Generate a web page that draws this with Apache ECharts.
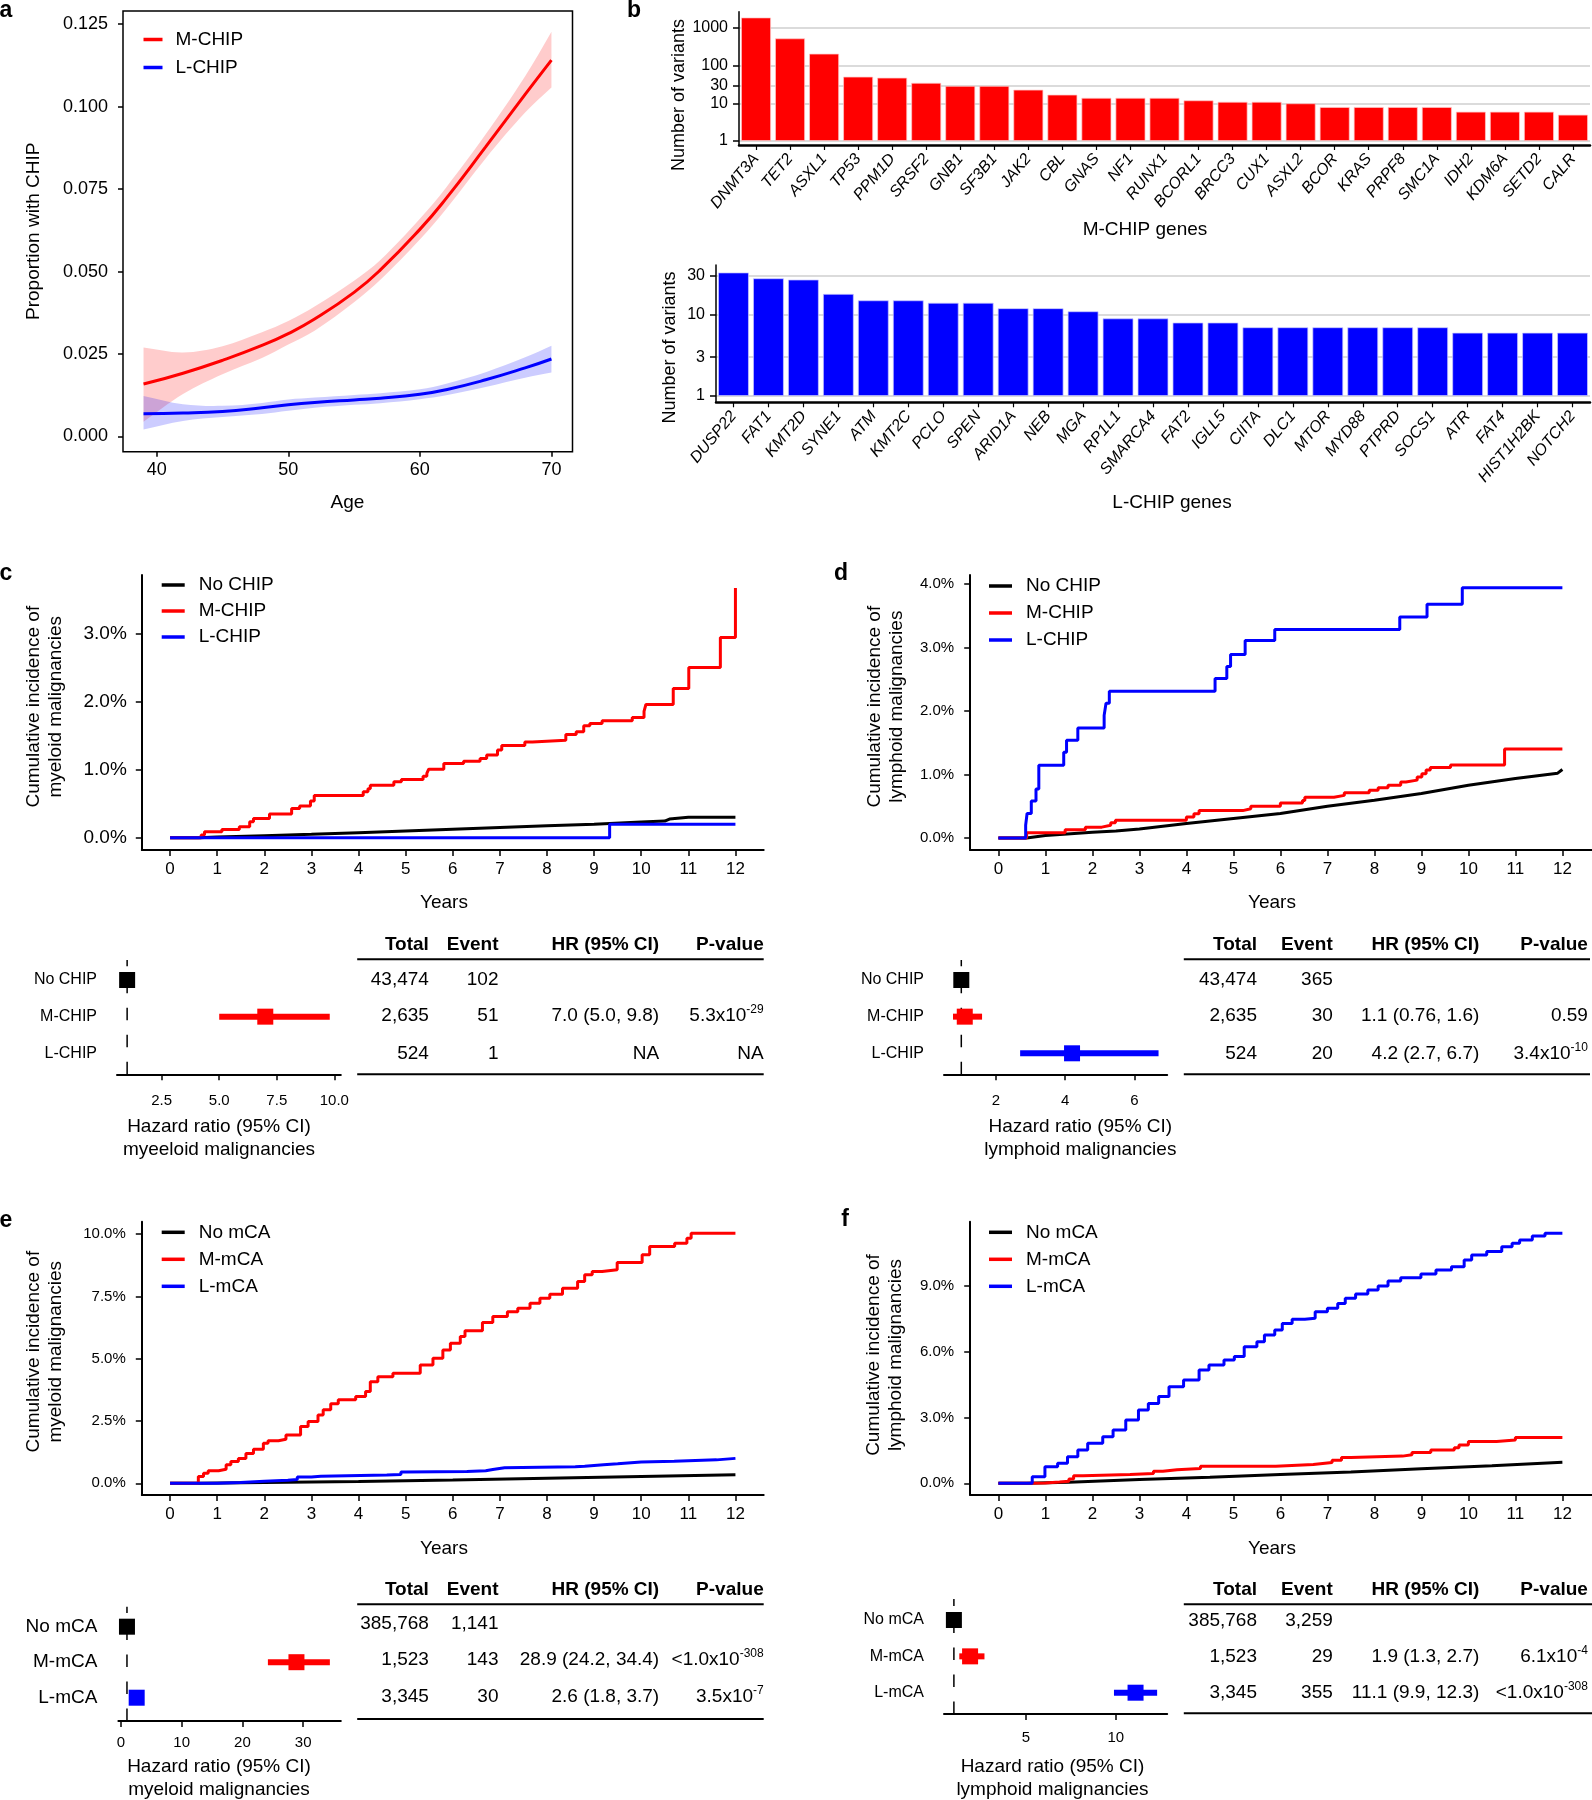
<!DOCTYPE html>
<html><head><meta charset="utf-8">
<script src="https://cdn.jsdelivr.net/npm/echarts@6/dist/echarts.min.js"></script>
<style>html,body{margin:0;padding:0;background:#fff}#c{width:1592px;height:1800px}</style>
</head><body><div id="c"></div><script>
const FONT = '"Liberation Sans", Arial, Helvetica, sans-serif';
const RED = '#FF0000', BLUE = '#0000FF', BLACK = '#000000';

// ---------- Panel a ----------
const ageA   = [39, 42, 45, 48, 50, 52, 55, 57, 60, 62, 65, 68, 70];
const mProp  = [0.0159, 0.0192, 0.0231, 0.0276, 0.0312, 0.0356, 0.0437, 0.0505, 0.0628, 0.0722, 0.0878, 0.1037, 0.1141];
const mLo    = [0.0045, 0.0129, 0.0189, 0.0238, 0.0279, 0.0321, 0.0407, 0.0475, 0.0597, 0.0690, 0.0843, 0.0982, 0.1058];
const mHi    = [0.0270, 0.0255, 0.0274, 0.0316, 0.0350, 0.0394, 0.0472, 0.0535, 0.0660, 0.0755, 0.0916, 0.1092, 0.1227];
const lProp  = [0.0069, 0.0071, 0.0076, 0.0087, 0.0096, 0.0103, 0.0111, 0.0116, 0.0128, 0.0142, 0.0172, 0.0208, 0.0235];
const lLo    = [0.0021, 0.0047, 0.0059, 0.0068, 0.0078, 0.0087, 0.0096, 0.0101, 0.0113, 0.0125, 0.0150, 0.0178, 0.0194];
const lHi    = [0.0123, 0.0098, 0.0093, 0.0102, 0.0112, 0.0118, 0.0126, 0.0131, 0.0143, 0.0160, 0.0195, 0.0240, 0.0275];
const aXTicks = [40, 50, 60, 70];
const aYTicks = [0, 0.025, 0.05, 0.075, 0.1, 0.125];

// ---------- Panel b ----------
const mGenes = ['DNMT3A','TET2','ASXL1','TP53','PPM1D','SRSF2','GNB1','SF3B1','JAK2','CBL','GNAS','NF1','RUNX1','BCORL1','BRCC3','CUX1','ASXL2','BCOR','KRAS','PRPF8','SMC1A','IDH2','KDM6A','SETD2','CALR'];
const mCounts = [1900, 530, 208, 51, 48, 35, 29, 29, 23, 17, 14, 14, 14, 12, 11, 11, 10, 8, 8, 8, 8, 6, 6, 6, 5];
const lGenes = ['DUSP22','FAT1','KMT2D','SYNE1','ATM','KMT2C','PCLO','SPEN','ARID1A','NEB','MGA','RP1L1','SMARCA4','FAT2','IGLL5','CIITA','DLC1','MTOR','MYD88','PTPRD','SOCS1','ATR','FAT4','HIST1H2BK','NOTCH2'];
const lCounts = [33, 28, 27, 18, 15, 15, 14, 14, 12, 12, 11, 9, 9, 8, 8, 7, 7, 7, 7, 7, 7, 6, 6, 6, 6];
const mTicks = [1, 10, 30, 100, 1000];
const lTicks = [1, 3, 10, 30];

// ---------- KM curves (years, cumulative incidence %) ----------
const yearTicks = [0,1,2,3,4,5,6,7,8,9,10,11,12];
// c
const cNoT = [0, 0.6, 1, 2, 3, 4, 5, 6, 7, 8, 9, 10, 10.5, 10.6, 11, 12];
const cNoV = [0, 0, 0.01, 0.03, 0.05, 0.075, 0.10, 0.125, 0.15, 0.175, 0.20, 0.23, 0.245, 0.275, 0.30, 0.30];
const cMT = [0, 0.60, 0.66, 0.73, 1.10, 1.47, 1.69, 1.77, 2.11, 2.58, 2.75, 2.98, 3.06, 4.10, 4.20, 4.25, 4.75, 4.91, 5.37, 5.45, 5.49, 5.81, 6.23, 6.58, 6.72, 6.95, 7.04, 7.53, 7.69, 8.40, 8.62, 8.78, 8.91, 9.17, 9.81, 10.06, 10.10, 10.68, 11.01, 11.68, 12.0];
const cMV = [0, 0, 0.04, 0.088, 0.122, 0.161, 0.235, 0.284, 0.348, 0.431, 0.465, 0.54, 0.622, 0.675, 0.72, 0.773, 0.822, 0.857, 0.905, 0.945, 1.008, 1.091, 1.125, 1.165, 1.214, 1.288, 1.356, 1.405, 1.434, 1.517, 1.556, 1.644, 1.679, 1.718, 1.767, 1.855, 1.958, 2.193, 2.50, 2.94, 3.67];
const cLT = [0, 9.33, 12];
const cLV = [0, 0.20, 0.20];
const cYTicks = [0, 1, 2, 3];
// d
const dNoT = [0, 0.6, 1, 2, 2.5, 3, 4, 5, 6, 7, 8, 9, 10, 11, 11.9, 12];
const dNoV = [0, 0, 0.04, 0.09, 0.11, 0.142, 0.226, 0.305, 0.384, 0.50, 0.594, 0.70, 0.83, 0.935, 1.02, 1.077];
const dMT = [0, 0.6, 1.42, 1.85, 2.2, 2.39, 2.49, 4.0, 4.16, 4.27, 5.2, 5.37, 6.0, 6.47, 6.52, 7.14, 7.36, 7.89, 8.08, 8.29, 8.56, 8.67, 8.91, 9.01, 9.1, 9.19, 9.62, 10.77, 12];
const dMV = [0, 0.08, 0.13, 0.17, 0.2, 0.24, 0.28, 0.33, 0.38, 0.43, 0.46, 0.50, 0.55, 0.59, 0.64, 0.67, 0.71, 0.75, 0.79, 0.83, 0.88, 0.91, 0.96, 1.01, 1.07, 1.11, 1.15, 1.40, 1.40];
const dLT = [0, 0.58, 0.61, 0.70, 0.80, 0.86, 1.39, 1.45, 1.69, 2.25, 2.29, 2.36, 4.61, 4.86, 4.94, 5.25, 5.88, 8.54, 9.12, 9.87, 12];
const dLV = [0, 0.2, 0.384, 0.58, 0.77, 1.146, 1.35, 1.54, 1.73, 1.93, 2.12, 2.31, 2.51, 2.70, 2.89, 3.11, 3.28, 3.48, 3.68, 3.94, 3.94];
const dYTicks = [0, 1, 2, 3, 4];
// e
const eNoT = [0, 0.6, 2, 4, 6, 8, 10, 12];
const eNoV = [0, 0, 0.03, 0.07, 0.13, 0.20, 0.27, 0.34];
const eMT = [0, 0.55, 0.6, 0.71, 0.81, 1.03, 1.19, 1.29, 1.45, 1.61, 1.77, 1.98, 2.08, 2.30, 2.46, 2.77, 2.93, 3.14, 3.25, 3.41, 3.57, 3.94, 4.15, 4.25, 4.41, 4.73, 5.31, 5.58, 5.79, 5.95, 6.16, 6.26, 6.63, 6.85, 7.16, 7.38, 7.64, 7.85, 8.06, 8.33, 8.65, 8.80, 8.96, 9.17, 9.49, 10.02, 10.18, 10.71, 10.97, 11.06, 12];
const eMV = [0, 0, 0.27, 0.4, 0.5, 0.56, 0.74, 0.87, 1.0, 1.2, 1.37, 1.61, 1.71, 1.77, 1.94, 2.28, 2.48, 2.74, 2.95, 3.19, 3.35, 3.48, 3.68, 4.08, 4.28, 4.42, 4.75, 5.02, 5.35, 5.62, 5.89, 6.12, 6.45, 6.69, 6.89, 7.03, 7.23, 7.43, 7.59, 7.83, 8.10, 8.37, 8.50, 8.57, 8.86, 9.17, 9.50, 9.64, 9.84, 10.04, 10.04];
const eLT = [0, 0.6, 1, 1.5, 2, 2.5, 2.7, 3, 3.2, 4.6, 4.9, 5.0, 6.3, 6.7, 6.85, 7.1, 8.6, 8.8, 9.2, 9.5, 10, 10.7, 11.6, 12];
const eLV = [0, 0, 0.03, 0.08, 0.12, 0.15, 0.25, 0.28, 0.33, 0.35, 0.45, 0.47, 0.5, 0.55, 0.62, 0.66, 0.68, 0.74, 0.78, 0.85, 0.88, 0.94, 1.0, 1.0];
const eYTicks = [0, 2.5, 5, 7.5, 10];
// f
const fNoT = [0, 0.6, 1.5, 3, 4.5, 6, 7.5, 9, 10.5, 12];
const fNoV = [0, 0, 0.05, 0.17, 0.28, 0.40, 0.52, 0.66, 0.80, 0.96];
const fMT = [0, 0.6, 1.0, 1.3, 1.5, 1.6, 1.8, 2.8, 3.3, 3.5, 3.8, 4.3, 5.9, 6.7, 7.1, 7.3, 7.5, 8.6, 8.8, 9.2, 9.7, 9.8, 10.0, 10.6, 11.0, 12];
const fMV = [0, 0.02, 0.06, 0.1, 0.2, 0.35, 0.4, 0.45, 0.55, 0.62, 0.68, 0.78, 0.86, 0.95, 1.05, 1.18, 1.24, 1.3, 1.4, 1.52, 1.62, 1.75, 1.9, 1.97, 2.09, 2.09];
const fLT = [0, 0.5, 0.72, 0.99, 1.26, 1.47, 1.69, 1.90, 2.22, 2.44, 2.71, 2.98, 3.19, 3.41, 3.63, 3.94, 4.27, 4.48, 4.80, 5.02, 5.23, 5.50, 5.66, 5.88, 6.04, 6.25, 6.52, 6.74, 7.0, 7.22, 7.38, 7.60, 7.86, 8.08, 8.29, 8.56, 8.99, 9.31, 9.64, 9.91, 10.07, 10.39, 10.71, 10.93, 11.09, 11.36, 11.63, 12];
const fLV = [0, 0, 0.3, 0.76, 0.91, 1.21, 1.52, 1.82, 2.12, 2.43, 2.88, 3.34, 3.64, 3.95, 4.40, 4.70, 5.16, 5.39, 5.61, 5.77, 6.22, 6.45, 6.75, 6.98, 7.28, 7.47, 7.51, 7.81, 7.97, 8.19, 8.42, 8.62, 8.80, 8.98, 9.21, 9.36, 9.53, 9.71, 9.86, 10.17, 10.39, 10.55, 10.77, 10.93, 11.08, 11.26, 11.38, 11.38];
const fYTicks = [0, 3, 6, 9];

// ---------- Forest plots (HR, lower, upper) ----------
const chipRows = ['No CHIP', 'M-CHIP', 'L-CHIP'];
const mcaRows = ['No mCA', 'M-mCA', 'L-mCA'];
const fcHR = [1, 7.0, null],  fcLo = [null, 5.0, null], fcHi = [null, 9.8, null];
const fdHR = [1, 1.1, 4.2],   fdLo = [null, 0.76, 2.7], fdHi = [null, 1.6, 6.7];
const feHR = [1, 28.9, 2.6],  feLo = [null, 24.2, 1.8], feHi = [null, 34.4, 3.7];
const ffHR = [1, 1.9, 11.1],  ffLo = [null, 1.3, 9.9],  ffHi = [null, 2.7, 12.3];
const fcTicks = [2.5, 5, 7.5, 10];
const fdTicks = [2, 4, 6];
const feTicks = [0, 10, 20, 30];
const ffTicks = [5, 10];

// ---------- Tables ----------
const tabHead = ['Total', 'Event', 'HR (95% CI)', 'P-value'];
const tcTotal = ['43,474', '2,635', '524'], tcEvent = ['102', '51', '1'], tcHR = ['', '7.0 (5.0, 9.8)', 'NA'], tcP = [['', ''], ['5.3x10', '-29'], ['NA', '']];
const tdTotal = ['43,474', '2,635', '524'], tdEvent = ['365', '30', '20'], tdHR = ['', '1.1 (0.76, 1.6)', '4.2 (2.7, 6.7)'], tdP = [['', ''], ['0.59', ''], ['3.4x10', '-10']];
const teTotal = ['385,768', '1,523', '3,345'], teEvent = ['1,141', '143', '30'], teHR = ['', '28.9 (24.2, 34.4)', '2.6 (1.8, 3.7)'], teP = [['', ''], ['<1.0x10', '-308'], ['3.5x10', '-7']];
const tfTotal = ['385,768', '1,523', '3,345'], tfEvent = ['3,259', '29', '355'], tfHR = ['', '1.9 (1.3, 2.7)', '11.1 (9.9, 12.3)'], tfP = [['', ''], ['6.1x10', '-4'], ['<1.0x10', '-308']];

// ================= build =================
const chart = echarts.init(document.getElementById('c'), null, {renderer: 'canvas'});
const txtBase = {color: '#000', fontFamily: FONT};

const grids = [
  {left: 123, top: 11, width: 449.5, height: 440.7, show: true, borderColor: '#000', borderWidth: 1.5, backgroundColor: 'transparent'},
  {left: 739, top: 11.7, width: 851, height: 133.3},
  {left: 716, top: 265, width: 874, height: 137.3},
  {left: 141.8, top: 575, width: 621.9, height: 275},
  {left: 970.2, top: 575, width: 621.8, height: 275},
  {left: 141.8, top: 1221.7, width: 621.9, height: 273.3},
  {left: 970.2, top: 1221.7, width: 621.8, height: 273.3},
  {left: 117, top: 960, width: 223.8, height: 114.3},
  {left: 944, top: 960, width: 223.2, height: 114.3},
  {left: 118.4, top: 1606.7, width: 222.4, height: 114.3},
  {left: 944, top: 1599, width: 223.2, height: 115}
].map(g => Object.assign({outerBoundsMode: 'none', containLabel: false}, g));

function valAxis(gi, min, max, ticks, o) {
  return {
    type: o.log ? 'log' : 'value', logBase: 10, gridIndex: gi, min, max, inverse: !!o.inverse,
    axisLine: {show: o.line !== false, onZero: false, lineStyle: {color: '#000', width: o.lw || 2}},
    axisTick: {show: o.tick !== false, customValues: ticks, length: o.tl || 6, lineStyle: {color: '#000', width: 1.5}},
    axisLabel: Object.assign({customValues: ticks, fontSize: o.fs || 17, margin: o.margin || 10, formatter: o.fmt}, txtBase),
    splitLine: {show: !!o.split, lineStyle: {color: '#cfcfcf', width: 1.5}}
  };
}
function catAxis(gi, cats) {
  return {
    type: 'category', gridIndex: gi, data: cats,
    axisLine: {show: true, onZero: false, lineStyle: {color: '#000', width: 2.5}},
    axisTick: {show: true, alignWithLabel: true, length: 5, lineStyle: {color: '#000', width: 1.2}},
    axisLabel: Object.assign({interval: 0, rotate: 50, fontSize: 16, fontStyle: 'italic', margin: 11}, txtBase),
    splitLine: {show: false}
  };
}
const pct = v => v.toFixed(1) + '%';
const xAxes = [
  valAxis(0, 37.44, 71.6, aXTicks, {line: false, tl: 5, fs: 18, margin: 9}),
  catAxis(1, mGenes),
  catAxis(2, lGenes),
  valAxis(3, -0.6, 12.6, yearTicks, {fs: 17, margin: 11}),
  valAxis(4, -0.6, 12.63, yearTicks, {fs: 17, margin: 11}),
  valAxis(5, -0.6, 12.6, yearTicks, {fs: 17, margin: 11}),
  valAxis(6, -0.6, 12.63, yearTicks, {fs: 17, margin: 11}),
  valAxis(7, 0.56, 10.28, fcTicks, {fs: 15, margin: 19, fmt: v => v.toFixed(1)}),
  valAxis(8, 0.5, 6.95, fdTicks, {fs: 15, margin: 19}),
  valAxis(9, -0.41, 36.2, feTicks, {fs: 15, margin: 14}),
  valAxis(10, 0.45, 12.86, ffTicks, {fs: 15, margin: 16})
];
const rowFmt = names => v => names[Math.round(v) - 1];
const yAxes = [
  valAxis(0, -0.0046, 0.129, aYTicks, {line: false, tl: 5, fs: 18, margin: 15, fmt: v => v.toFixed(3)}),
  valAxis(1, 0.783, 2706, mTicks, {log: true, lw: 1.5, tl: 6, fs: 16, margin: 11, split: true, fmt: v => String(Math.round(v))}),
  valAxis(2, 0.837, 40.8, lTicks, {log: true, lw: 1.5, tl: 6, fs: 16, margin: 11, split: true, fmt: v => String(Math.round(v))}),
  valAxis(3, -0.18, 3.86, cYTicks, {fs: 19, margin: 15, fmt: pct}),
  valAxis(4, -0.19, 4.14, dYTicks, {fs: 15, margin: 16, fmt: pct}),
  valAxis(5, -0.47, 10.5, eYTicks, {fs: 15, margin: 16, fmt: pct}),
  valAxis(6, -0.53, 11.91, fYTicks, {fs: 15, margin: 16, fmt: pct}),
  valAxis(7, 0.454, 3.573, [1, 2, 3], {inverse: true, line: false, tick: false, fs: 16, margin: 20, fmt: rowFmt(chipRows)}),
  valAxis(8, 0.454, 3.573, [1, 2, 3], {inverse: true, line: false, tick: false, fs: 16, margin: 20, fmt: rowFmt(chipRows)}),
  valAxis(9, 0.437, 3.656, [1, 2, 3], {inverse: true, line: false, tick: false, fs: 19, margin: 21, fmt: rowFmt(mcaRows)}),
  valAxis(10, 0.422, 3.586, [1, 2, 3], {inverse: true, line: false, tick: false, fs: 16, margin: 20, fmt: rowFmt(mcaRows)})
];

function leg(left, top, names, fs, gap, iw, pad) {
  return {orient: 'vertical', left, top, data: names, icon: 'rect', itemWidth: iw, itemHeight: 3.5, itemGap: gap,
    selectedMode: false, padding: 0, textStyle: Object.assign({fontSize: fs, padding: [0, 0, 0, pad]}, txtBase)};
}
const legends = [
  leg(143.5, 30, ['M-CHIP', 'L-CHIP'], 19, 9, 19, 8),
  leg(161.7, 575.5, chipRows, 19, 7, 23, 9),
  leg(989, 576.5, chipRows, 19, 8, 23, 9),
  leg(161.7, 1222.8, mcaRows, 19, 8, 23, 9),
  leg(989, 1222.8, mcaRows, 19, 8, 23, 9)
];

const series = [];
// panel a confidence bands (custom polygon through the axes' scales) + lines
function band(lo, hi, color) {
  series.push({type: 'custom', xAxisIndex: 0, yAxisIndex: 0, silent: true, z: 1,
    data: ageA.map((a, i) => [a, lo[i], hi[i]]),
    renderItem: (p, api) => {
      if (p.dataIndex !== 0) return null;
      const n = ageA.length;
      const up = ageA.map((a, i) => api.coord([a, hi[i]]));
      const dn = ageA.map((a, i) => api.coord([a, lo[i]])).reverse();
      // duplicate the four corner points so the smoothed outline keeps square ends
      const pts = [up[0]].concat(up, [up[n - 1]], [dn[0]], dn, [dn[n - 1]]);
      return {type: 'polygon', shape: {points: pts, smooth: 0.35}, style: {fill: color}};
    }});
}
band(mLo, mHi, 'rgba(255,0,0,0.2)');
band(lLo, lHi, 'rgba(0,0,255,0.2)');
series.push({type: 'line', name: 'M-CHIP', xAxisIndex: 0, yAxisIndex: 0, smooth: true, symbol: 'none', color: RED,
  data: ageA.map((a, i) => [a, mProp[i]]), lineStyle: {color: RED, width: 3}, z: 3});
series.push({type: 'line', name: 'L-CHIP', xAxisIndex: 0, yAxisIndex: 0, smooth: true, symbol: 'none', color: BLUE,
  data: ageA.map((a, i) => [a, lProp[i]]), lineStyle: {color: BLUE, width: 3}, z: 3});
// panel b bars
series.push({type: 'bar', xAxisIndex: 1, yAxisIndex: 1, data: mCounts, barCategoryGap: '12%',
  itemStyle: {color: RED, borderColor: 'rgba(255,200,200,0.9)', borderWidth: 0.8}});
series.push({type: 'bar', xAxisIndex: 2, yAxisIndex: 2, data: lCounts, barCategoryGap: '12%',
  itemStyle: {color: BLUE, borderColor: 'rgba(200,200,255,0.9)', borderWidth: 0.8}});
// KM
function km(gi, name, T, V, color, step) {
  series.push({type: 'line', name, xAxisIndex: gi, yAxisIndex: gi, data: T.map((t, i) => [t, V[i]]), step: step ? 'end' : false,
    symbol: 'none', color, lineStyle: {color, width: 3}, z: 3});
}
km(3, 'No CHIP', cNoT, cNoV, BLACK, false); km(3, 'M-CHIP', cMT, cMV, RED, true); km(3, 'L-CHIP', cLT, cLV, BLUE, true);
km(4, 'No CHIP', dNoT, dNoV, BLACK, false); km(4, 'M-CHIP', dMT, dMV, RED, true); km(4, 'L-CHIP', dLT, dLV, BLUE, true);
km(5, 'No mCA', eNoT, eNoV, BLACK, false); km(5, 'M-mCA', eMT, eMV, RED, true); km(5, 'L-mCA', eLT, eLV, BLUE, true);
km(6, 'No mCA', fNoT, fNoV, BLACK, false); km(6, 'M-mCA', fMT, fMV, RED, true); km(6, 'L-mCA', fLT, fLV, BLUE, true);
// forests
const rowColors = [BLACK, RED, BLUE];
function forest(gi, HR, LO, HI) {
  series.push({type: 'custom', xAxisIndex: gi, yAxisIndex: gi, data: [[1, 1]], silent: true, z: 2,
    renderItem: (p, api) => {
      const cs = p.coordSys; const x = api.coord([1, 1])[0];
      return {type: 'line', shape: {x1: x, y1: cs.y + cs.height, x2: x, y2: cs.y}, style: {stroke: '#000', lineWidth: 1.5, lineDash: [12.5, 14.5]}};
    }});
  const d = HR.map((h, i) => [h == null ? '-' : h, LO[i] == null ? '-' : LO[i], HI[i] == null ? '-' : HI[i], i + 1]);
  series.push({type: 'custom', xAxisIndex: gi, yAxisIndex: gi, data: d, silent: true, z: 3, encode: {x: 0, y: 3},
    renderItem: (p, api) => {
      const hr = api.value(0), lo = api.value(1), hi = api.value(2), row = api.value(3);
      const col = rowColors[p.dataIndex]; const ch = [];
      if (!isNaN(lo) && !isNaN(hi)) {
        const a = api.coord([lo, row]), b = api.coord([hi, row]);
        ch.push({type: 'line', shape: {x1: a[0], y1: a[1], x2: b[0], y2: b[1]}, style: {stroke: col, lineWidth: 6}});
      }
      if (!isNaN(hr)) {
        const c = api.coord([hr, row]);
        ch.push({type: 'rect', shape: {x: c[0] - 8, y: c[1] - 8, width: 16, height: 16}, style: {fill: col}});
      }
      return {type: 'group', children: ch};
    }});
}
forest(7, fcHR, fcLo, fcHi);
forest(8, fdHR, fdLo, fdHi);
forest(9, feHR, feLo, feHi);
forest(10, ffHR, ffLo, ffHi);

// ---------- graphic texts ----------
const G = [];
function T(x, y, text, o = {}) {
  const al = o.align || 'center', va = o.va || 'middle';
  G.push({type: 'text', x, y, rotation: o.rot || 0, silent: true, z: 10,
    style: {text, font: (o.bold ? 'bold ' : '') + (o.fs || 19) + 'px ' + FONT, fill: '#000',
      textAlign: al, align: al, textVerticalAlign: va, verticalAlign: va, lineHeight: o.lh, rich: o.rich}});
}
function L(x1, y1, x2, y2, w) {
  G.push({type: 'line', silent: true, z: 10, shape: {x1, y1, x2, y2}, style: {stroke: '#000', lineWidth: w || 2}});
}
// panel letters
[['a', 6, 22], ['b', 634, 22], ['c', 6, 585], ['d', 841, 585], ['e', 6, 1232], ['f', 845, 1231]].forEach(([t, x, y]) =>
  T(x, y, t, {bold: true, fs: 23, va: 'bottom'}));
// axis titles
const V90 = Math.PI / 2;
T(33.7, 231.3, 'Proportion with CHIP', {rot: V90, fs: 19});
T(347.5, 503, 'Age', {fs: 19});
T(679, 95, 'Number of variants', {rot: V90, fs: 18});
T(669.6, 347.5, 'Number of variants', {rot: V90, fs: 18});
T(1145, 230, 'M-CHIP genes', {fs: 19});
T(1172, 503, 'L-CHIP genes', {fs: 19});
T(45, 706.7, 'Cumulative incidence of\nmyeloid malignancies', {rot: V90, fs: 19, lh: 22});
T(886, 706.7, 'Cumulative incidence of\nlymphoid malignancies', {rot: V90, fs: 19, lh: 22});
T(45, 1351.7, 'Cumulative incidence of\nmyeloid malignancies', {rot: V90, fs: 19, lh: 22});
T(885, 1355, 'Cumulative incidence of\nlymphoid malignancies', {rot: V90, fs: 19, lh: 22});
T(444, 903, 'Years'); T(1272, 903, 'Years'); T(444, 1548.5, 'Years'); T(1272, 1548.5, 'Years');
T(219, 1138, 'Hazard ratio (95% CI)\nmyeeloid malignancies', {fs: 19, lh: 22.6});
T(1080.3, 1138, 'Hazard ratio (95% CI)\nlymphoid malignancies', {fs: 19, lh: 22.6});
T(219, 1778, 'Hazard ratio (95% CI)\nmyeloid malignancies', {fs: 19, lh: 22.6});
T(1052.5, 1778, 'Hazard ratio (95% CI)\nlymphoid malignancies', {fs: 19, lh: 22.6});
// tables
const rich = {n: {fontSize: 19, fontFamily: FONT, lineHeight: 24, verticalAlign: 'middle'},
              s: {fontSize: 12, fontFamily: FONT, lineHeight: 12, verticalAlign: 'top'}};
function table(cols, hy, uy, by, lx1, lx2, rowsY, tot, ev, hr, pv) {
  tabHead.forEach((h, i) => T(cols[i], hy, h, {bold: true, align: 'right'}));
  L(lx1, uy, lx2, uy); L(lx1, by, lx2, by);
  rowsY.forEach((y, r) => {
    T(cols[0], y, tot[r], {align: 'right'});
    T(cols[1], y, ev[r], {align: 'right'});
    if (hr[r]) T(cols[2], y, hr[r], {align: 'right'});
    if (pv[r][0]) T(cols[3], y, pv[r][1] ? '{n|' + pv[r][0] + '}{s|' + pv[r][1] + '}' : '{n|' + pv[r][0] + '}', {align: 'right', rich});
  });
}
const colsL = [428.9, 498.5, 659.2, 763.7], colsR = [1257, 1332.8, 1479.3, 1587.9];
table(colsL, 944.3, 959.3, 1074.3, 357.2, 763.7, [980, 1016, 1053.3], tcTotal, tcEvent, tcHR, tcP);
table(colsR, 944.3, 959.3, 1074.3, 1183.8, 1590, [980, 1016, 1053.3], tdTotal, tdEvent, tdHR, tdP);
table(colsL, 1589.3, 1604.3, 1719, 357.2, 763.7, [1624, 1660, 1696.7], teTotal, teEvent, teHR, teP);
table(colsR, 1589.3, 1604.3, 1713.3, 1183.8, 1592, [1620.7, 1656.7, 1692.7], tfTotal, tfEvent, tfHR, tfP);

chart.setOption({
  animation: false, backgroundColor: '#fff', textStyle: {fontFamily: FONT},
  grid: grids, xAxis: xAxes, yAxis: yAxes, legend: legends, series, graphic: G
});
</script></body></html>
